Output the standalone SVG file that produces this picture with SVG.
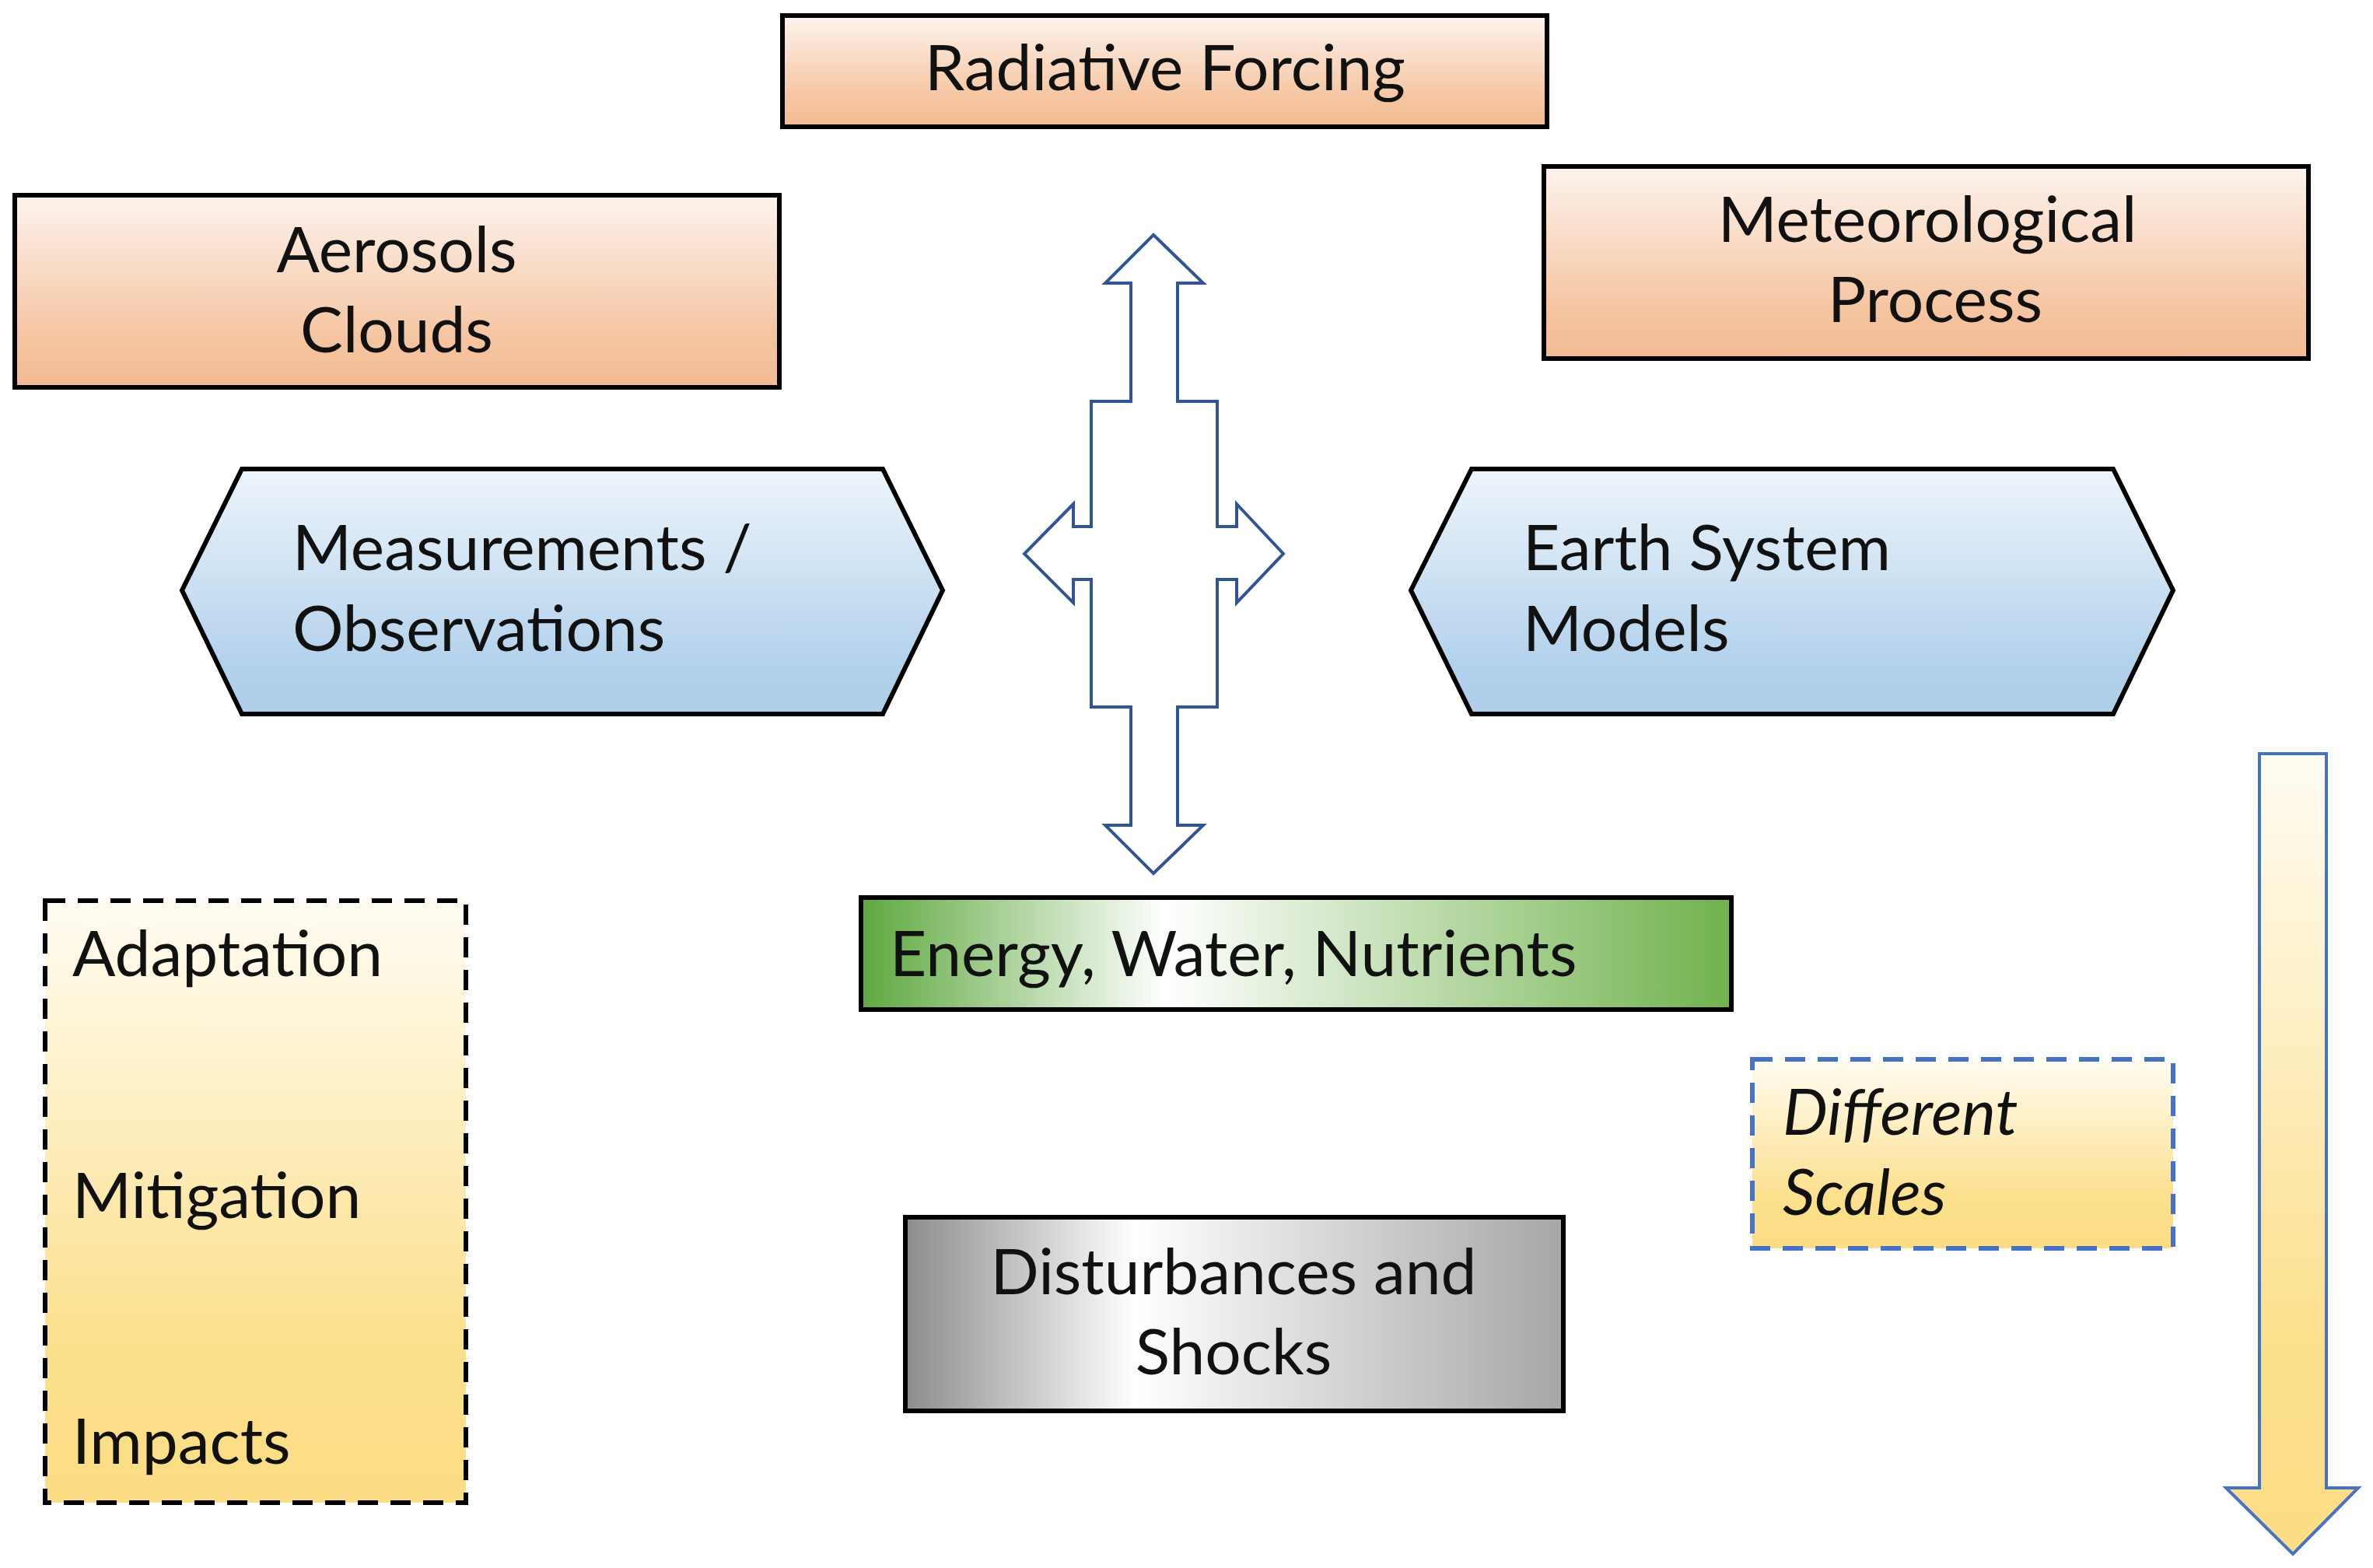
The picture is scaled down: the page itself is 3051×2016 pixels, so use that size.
<svg xmlns="http://www.w3.org/2000/svg" width="3051" height="2016" viewBox="0 0 3051 2016">
<defs>
<linearGradient id="orange" x1="0" y1="0" x2="0" y2="1"><stop offset="0" stop-color="#fdf3ee"/><stop offset="0.75" stop-color="#f5c4a0"/><stop offset="1" stop-color="#f3bb94"/></linearGradient>
<linearGradient id="blue" x1="0" y1="0" x2="0" y2="1"><stop offset="0" stop-color="#eef5fb"/><stop offset="0.8" stop-color="#b3d1ec"/><stop offset="1" stop-color="#aecde9"/></linearGradient>
<linearGradient id="green" x1="0" y1="0" x2="1" y2="0"><stop offset="0" stop-color="#5ea83f"/><stop offset="0.35" stop-color="#ffffff"/><stop offset="1" stop-color="#70b24d"/></linearGradient>
<linearGradient id="gray" x1="0" y1="0" x2="1" y2="0"><stop offset="0" stop-color="#8c8c8c"/><stop offset="0.35" stop-color="#ffffff"/><stop offset="1" stop-color="#a6a6a6"/></linearGradient>
<linearGradient id="yellow" x1="0" y1="0" x2="0" y2="1"><stop offset="0" stop-color="#fffcf3"/><stop offset="0.75" stop-color="#fcdf8a"/><stop offset="1" stop-color="#fbdd85"/></linearGradient>
</defs>
<style>
.box{stroke:#000;stroke-width:6}
.t{font-family:Lato,"Open Sans",sans-serif;font-size:82px;fill:#111}
.c{text-anchor:middle}
</style>
<rect width="3051" height="2016" fill="#fff"/>
<g id="radiative"><rect class="box" x="1006" y="20" width="983" height="143" fill="url(#orange)"/><text class="t c" x="1498" y="116">Radiative Forcing</text></g>
<g id="aerosols"><rect class="box" x="19" y="251" width="983" height="247" fill="url(#orange)"/><text class="t c" x="510" y="350">Aerosols</text><text class="t c" x="510" y="453">Clouds</text></g>
<g id="meteo"><rect class="box" x="1985" y="214" width="983" height="247" fill="url(#orange)"/><text class="t c" x="2478" y="311">Meteorological</text><text class="t c" x="2488" y="414">Process</text></g>
<g id="measurements"><polygon class="box" points="234,759 311,603 1135,603 1212,759 1135,918 311,918" fill="url(#blue)"/><text class="t" x="376" y="733">Measurements /</text><text class="t" x="376" y="837">Observations</text></g>
<g id="esm"><polygon class="box" points="1814,759 1892,603 2717,603 2794,759 2717,918 1892,918" fill="url(#blue)"/><text class="t" x="1958" y="733">Earth System</text><text class="t" x="1958" y="837">Models</text></g>
<g id="energy"><rect class="box" x="1107" y="1154" width="1119" height="144" fill="url(#green)"/><text class="t" x="1144" y="1255">Energy, Water, Nutrients</text></g>
<g id="disturbances"><rect class="box" x="1164" y="1565" width="846" height="249" fill="url(#gray)"/><text class="t c" x="1586" y="1664">Disturbances and</text><text class="t c" x="1586" y="1767">Shocks</text></g>
<g id="adaptation"><rect x="58" y="1158" width="541" height="774" fill="url(#yellow)" stroke="#000" stroke-width="6" stroke-dasharray="26,16"/><text class="t" x="93" y="1255">Adaptation</text><text class="t" x="93" y="1566">Mitigation</text><text class="t" x="93" y="1882">Impacts</text></g>
<g id="scales"><rect x="2253" y="1362" width="541" height="243" fill="url(#yellow)" stroke="#4472c4" stroke-width="6" stroke-dasharray="26,16"/><text class="t" font-style="italic" x="2292" y="1459">Different</text><text class="t" font-style="italic" x="2292" y="1562">Scales</text></g>
<g id="connectors">
<path d="M1483,302 L1547,364 L1514,364 L1514,516 L1565,516 L1565,677 L1590,677 L1590,648 L1650,712 L1590,775 L1590,745 L1565,745 L1565,909 L1514,909 L1514,1061 L1547,1061 L1483,1123 L1421,1061 L1454,1061 L1454,909 L1403,909 L1403,745 L1380,745 L1380,775 L1317,712 L1380,648 L1380,677 L1403,677 L1403,516 L1454,516 L1454,364 L1421,364 Z" fill="#fff" stroke="#2f5597" stroke-width="4"/>
<path d="M2905,969 L2991,969 L2991,1913 L3032,1913 L2948,1998 L2862,1913 L2905,1913 Z" fill="url(#yellow)" stroke="#4472c4" stroke-width="4"/>
</g>
</svg>
